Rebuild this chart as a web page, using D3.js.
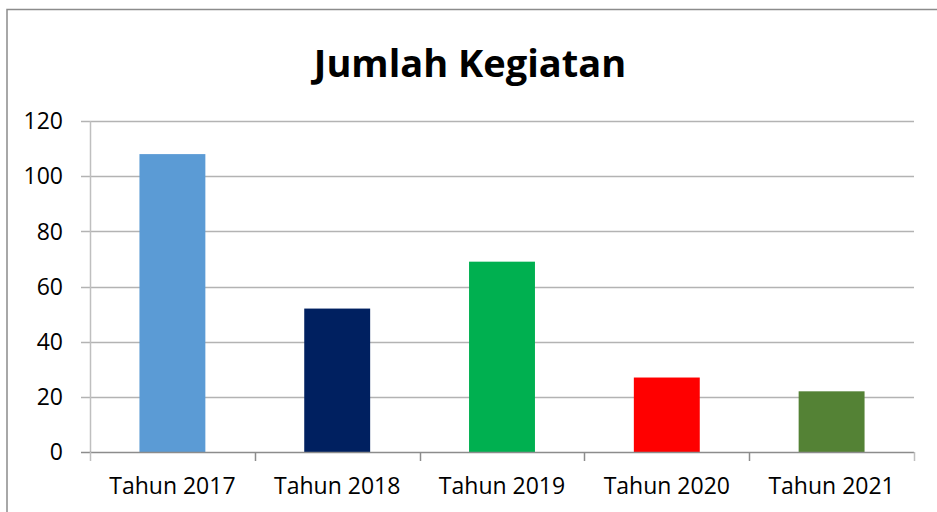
<!DOCTYPE html>
<html>
<head>
<meta charset="utf-8">
<script src="https://cdn.jsdelivr.net/npm/d3@7"></script>
<style>
  body { margin: 0; background: #fff; }
  text { font-family: "Open Sans", sans-serif; fill: #000; }
</style>
</head>
<body>
<div class="container"></div>
<script>
var categories = ["Tahun 2017", "Tahun 2018", "Tahun 2019", "Tahun 2020", "Tahun 2021"]
var values = [108, 52, 69, 27, 22]
var colors = ["#5b9bd5", "#002060", "#00b050", "#ff0000", "#548235"]
var yTicks = [0, 20, 40, 60, 80, 100, 120]

var width = 937,
  height = 512

var plot = { left: 90, right: 914, top: 121, bottom: 452 }

var svg = d3.select(".container").append("svg")
    .attr("width", width)
    .attr("height", height)

// chart border
svg.append("rect")
  .attr("x", 7).attr("y", 9.5)
  .attr("width", 940).attr("height", 520)
  .attr("fill", "#fff")
  .attr("stroke", "#8c8c8c")
  .attr("stroke-width", 1.5)

var x = d3.scaleBand()
  .domain(categories)
  .range([plot.left, plot.right])
  .paddingInner(0.6)
  .paddingOuter(0.3)

var y = d3.scaleLinear()
  .domain([0, 120])
  .range([plot.bottom, plot.top])

// gridlines + y ticks
svg.append("g")
  .selectAll("line")
  .data(yTicks.filter(function(d) { return d > 0 }))
  .enter().append("line")
  .attr("x1", plot.left - 9)
  .attr("x2", plot.right)
  .attr("y1", function(d) { return Math.round(y(d)) + 0.5 })
  .attr("y2", function(d) { return Math.round(y(d)) + 0.5 })
  .attr("stroke", "#b3b3b3")
  .attr("stroke-width", 1.5)

// y axis line
svg.append("line")
  .attr("x1", plot.left + 0.5).attr("x2", plot.left + 0.5)
  .attr("y1", plot.top).attr("y2", plot.bottom)
  .attr("stroke", "#bfbfbf")
  .attr("stroke-width", 1.5)

// bars
svg.append("g")
  .selectAll("rect")
  .data(values)
  .enter().append("rect")
  .attr("x", function(d, i) { return x(categories[i]) })
  .attr("width", x.bandwidth())
  .attr("y", function(d) { return y(d) })
  .attr("height", function(d) { return y(0) - y(d) })
  .attr("fill", function(d, i) { return colors[i] })

// x axis line + boundary ticks
svg.append("line")
  .attr("x1", plot.left - 9).attr("x2", plot.right)
  .attr("y1", plot.bottom + 0.5).attr("y2", plot.bottom + 0.5)
  .attr("stroke", "#8c8c8c")
  .attr("stroke-width", 1.5)

var step = x.step()
svg.append("g")
  .selectAll("line")
  .data(d3.range(categories.length + 1))
  .enter().append("line")
  .attr("x1", function(i) { return Math.round(plot.left + i * step) + 0.5 })
  .attr("x2", function(i) { return Math.round(plot.left + i * step) + 0.5 })
  .attr("y1", plot.bottom)
  .attr("y2", plot.bottom + 9)
  .attr("stroke", function(i) { return (i == 0 || i == categories.length) ? "#bfbfbf" : "#8c8c8c" })
  .attr("stroke-width", 1.5)

// y labels
svg.append("g")
  .selectAll("text")
  .data(yTicks)
  .enter().append("text")
  .attr("x", 63)
  .attr("y", function(d) { return y(d) })
  .attr("dy", "0.36em")
  .attr("text-anchor", "end")
  .style("font-size", "23px")
  .text(function(d) { return d })

// x labels
svg.append("g")
  .selectAll("text")
  .data(categories)
  .enter().append("text")
  .attr("x", function(d) { return x(d) + x.bandwidth() / 2 })
  .attr("y", 494)
  .attr("text-anchor", "middle")
  .style("font-size", "23px")
  .text(function(d) { return d })

// title
svg.append("text")
  .attr("x", 470)
  .attr("y", 77)
  .attr("text-anchor", "middle")
  .style("font-size", "38px")
  .style("font-weight", "bold")
  .text("Jumlah Kegiatan")
</script>
</body>
</html>
